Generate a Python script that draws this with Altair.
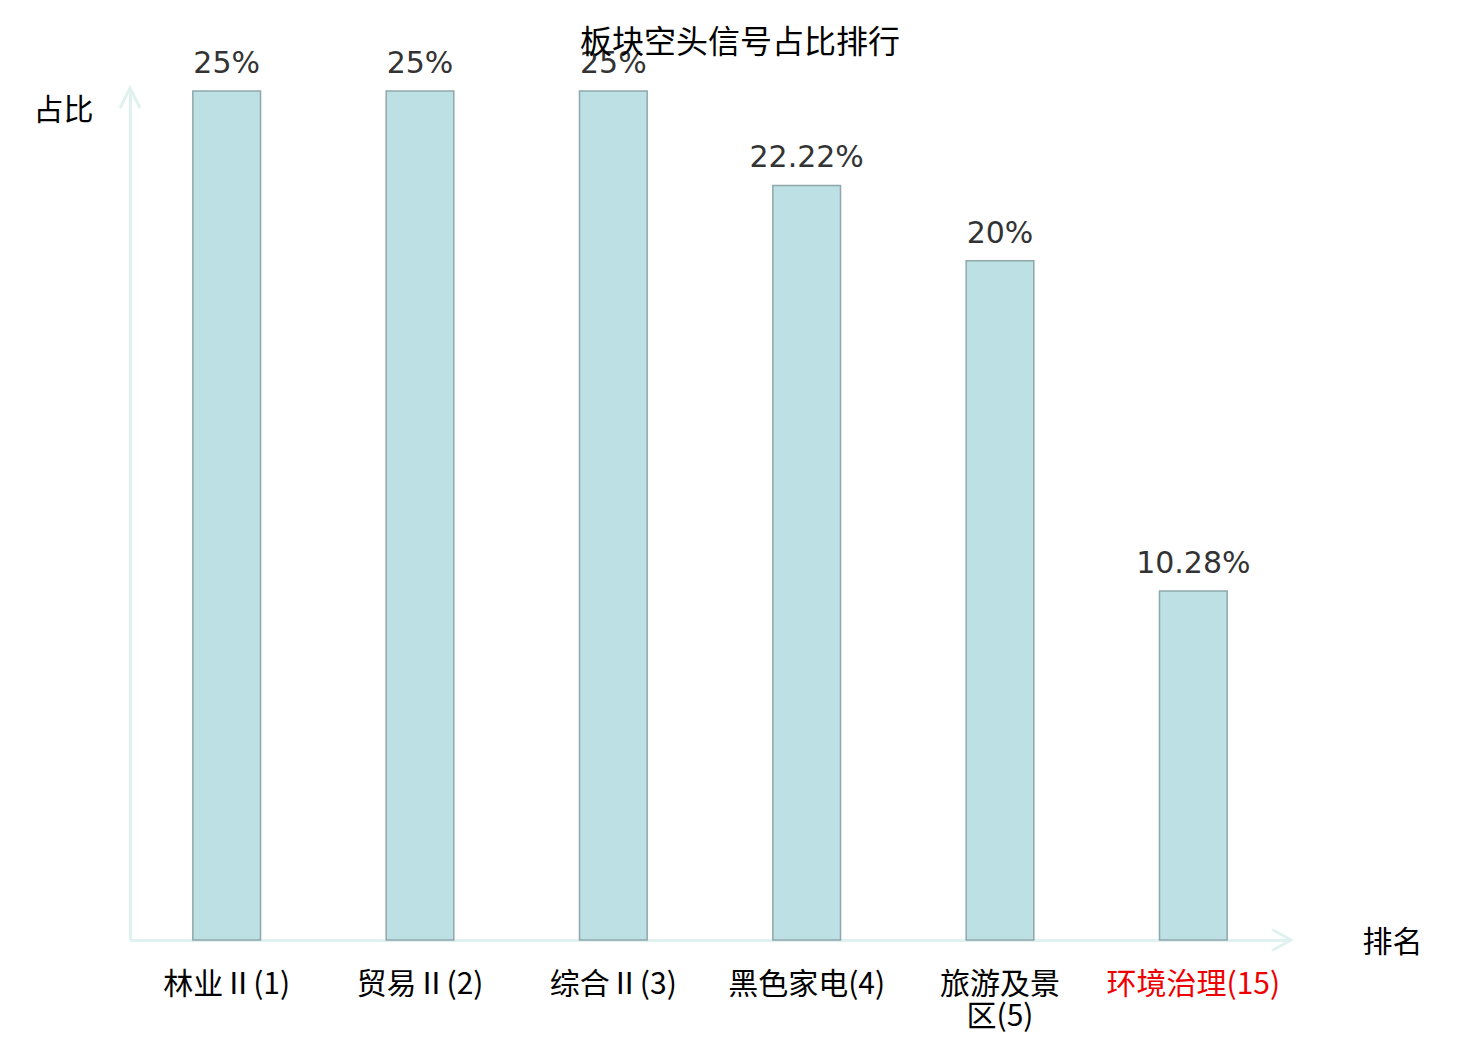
import altair as alt
import pandas as pd

categories = ["林业Ⅱ(1)", "贸易Ⅱ(2)", "综合Ⅱ(3)", "黑色家电(4)", "旅游及景区(5)", "环境治理(15)"]
values = [25, 25, 25, 22.22, 20, 10.28]
highlight = "环境治理(15)"
wrapped = {"旅游及景区(5)": ["旅游及景", "区(5)"]}
title_text = "板块空头信号占比排行"

df = pd.DataFrame({
    "cat": categories,
    "val": values,
    "txt": [f"{v:g}%" for v in values],
})

W, H = 1160, 849
AXIS_COLOR = "#dff2f0"
CJK = "Noto Sans CJK SC"

label_expr = " : ".join(
    [f"datum.value == '{k}' ? [{', '.join(repr(s) for s in v)}]" for k, v in wrapped.items()]
    + ["datum.value"]
)

x_enc = alt.X(
    "cat:N",
    sort=categories,
    scale=alt.Scale(paddingInner=0.65, paddingOuter=0.325),
    axis=alt.Axis(
        title="排名",
        titleFont=CJK, titleFontSize=30, titleFontWeight="normal", titleColor="black",
        titleAngle=0, titleX=1262, titleY=2, titleAlign="center", titleBaseline="middle",
        labelFont=CJK, labelFontSize=30, labelAngle=0, labelPadding=29,
        labelLineHeight=32, labelBaseline="top", labelLimit=300,
        labelExpr=label_expr,
        labelColor={"condition": {"test": f"datum.value == '{highlight}'", "value": "#ee0000"}, "value": "black"},
        ticks=False, domainColor=AXIS_COLOR, domainWidth=3, grid=False,
    ),
)
y_enc = alt.Y(
    "val:Q",
    scale=alt.Scale(domain=[0, 25], nice=False, zero=True),
    axis=alt.Axis(
        title="占比",
        titleFont=CJK, titleFontSize=30, titleFontWeight="normal", titleColor="black",
        titleAngle=0, titleX=-67, titleY=19, titleAlign="center", titleBaseline="middle",
        labels=False, ticks=False, grid=False, domainColor=AXIS_COLOR, domainWidth=3,
    ),
)

bars = alt.Chart(df).mark_bar(fill="#bce0e3", stroke="#8ea8aa", strokeWidth=1.5).encode(x=x_enc, y=y_enc)

texts = alt.Chart(df).mark_text(
    font="DejaVu Sans", fontSize=30, color="#333333", baseline="alphabetic", dy=-18
).encode(x=alt.X("cat:N", sort=categories), y="val:Q", text="txt:N")

arrow_x = alt.Chart(pd.DataFrame({"a": [0]})).mark_point(
    shape="M-1,-0.55L0,0L-1,0.55", size=1444, filled=False, stroke=AXIS_COLOR, strokeWidth=3, opacity=1
).encode(x=alt.value(W + 1), y=alt.value(H))

arrow_y = alt.Chart(pd.DataFrame({"a": [0]})).mark_point(
    shape="M-0.5,1L0,0L0.5,1", size=1600, filled=False, stroke=AXIS_COLOR, strokeWidth=3, opacity=1
).encode(x=alt.value(0), y=alt.value(-3))

title_mark = alt.Chart(pd.DataFrame({"t": [title_text]})).mark_text(
    font=CJK, fontSize=32, color="black", baseline="middle", align="center"
).encode(x=alt.value(610), y=alt.value(-48), text="t:N")

chart = alt.layer(bars, arrow_x, arrow_y, texts, title_mark).properties(
    width=W, height=H,
    autosize=alt.AutoSizeParams(type="none"),
    padding={"left": 122, "top": 83, "right": 180, "bottom": 92},
).configure(background="white").configure_view(strokeWidth=0, stroke="transparent")

chart.save("out.html", embed_options={"renderer": "svg", "actions": False})
